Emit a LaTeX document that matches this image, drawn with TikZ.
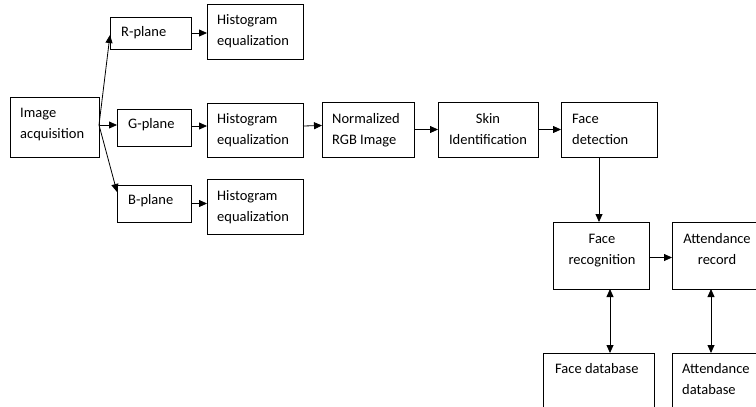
\documentclass[tikz,border=0pt]{standalone}
\usepackage{fontspec}
\setmainfont{Carlito}
\usetikzlibrary{arrows.meta}
\begin{document}
\begin{tikzpicture}[x=1pt,y=-1pt,
  box/.style={draw,line width=0.8pt,inner sep=0pt,outer sep=0pt},
  txt/.style={font=\fontsize{14.5}{21}\selectfont,inner sep=0pt,align=left,anchor=base west},
  ctxt/.style={font=\fontsize{14.5}{21}\selectfont,inner sep=0pt,align=center,anchor=base},
  arr/.style={line width=0.8pt,-{Triangle[length=8pt,width=7pt]}},
  dbl/.style={line width=0.8pt,{Triangle[length=8pt,width=7pt]}-{Triangle[length=8pt,width=7pt]}}]
\useasboundingbox (0,0) rectangle (756,407);
\clip (0,0) rectangle (756,407);
% boxes
\node[box,minimum width=89pt,minimum height=60pt] (acq) at (54.5,127) {};
\node[box,minimum width=81pt,minimum height=32pt] (rp) at (150.5,33) {};
\node[box,minimum width=96pt,minimum height=55pt] (hr) at (255,31.5) {};
\node[box,minimum width=74pt,minimum height=37pt] (gp) at (154,127.5) {};
\node[box,minimum width=96pt,minimum height=54pt] (hg) at (255,130) {};
\node[box,minimum width=74pt,minimum height=37pt] (bp) at (154,203.5) {};
\node[box,minimum width=96pt,minimum height=55pt] (hb) at (255,206.5) {};
\node[box,minimum width=92pt,minimum height=55pt] (nr) at (368,129.5) {};
\node[box,minimum width=100pt,minimum height=55pt] (sk) at (488,129.5) {};
\node[box,minimum width=96pt,minimum height=55pt] (fd) at (609,129.5) {};
\node[box,minimum width=96pt,minimum height=67pt] (fr) at (601,255.5) {};
\node[box,minimum width=90pt,minimum height=67pt] (ar) at (717,255.5) {};
\node[box,minimum width=111pt,minimum height=67pt] (fdb) at (598.5,386.5) {};
\node[box,minimum width=90pt,minimum height=67pt] (adb) at (717,386.5) {};
% texts (anchor = baseline of last line)
\node[txt] (tacq) at (20,138) {Image\\acquisition};
\node[txt] (trp) at (121,36) {R-plane};
\node[txt] (thr) at (217,45) {Histogram\\equalization};
\node[txt] (tgp) at (128,128) {G-plane};
\node[txt] (thg) at (217,144) {Histogram\\equalization};
\node[txt] (tbp) at (128,204) {B-plane};
\node[txt] (thb) at (217,221) {Histogram\\equalization};
\node[txt] (tnr) at (332,144) {Normalized\\RGB Image};
\node[ctxt] (tsk) at (488,144) {Skin\\Identification};
\node[txt] (tfd) at (572,144) {Face\\detection};
\node[ctxt] (tfr) at (602,264) {Face\\recognition};
\node[ctxt] (tar) at (717,264) {Attendance\\record};
\node[txt] (tfdb) at (555,373) {Face database};
\node[txt] (tadb) at (682,394) {Attendance\\database};
% connectors
\coordinate (fan) at ([yshift=2pt]acq.east);
\coordinate (gpe) at ([yshift=1.5pt]gp.east);
\draw[arr] (fan) -- ([yshift=-2pt]rp.west);
\draw[arr] (fan) -- (gp.west |- fan);
\draw[arr] (fan) -- ([yshift=-7pt]bp.north west);
\draw[arr] (rp.east) -- (hr.west |- rp.east);
\draw[arr] (gpe) -- (gpe -| hg.west);
\draw[arr] (bp.east) -- (hb.west |- bp.east);
\draw[arr] ([yshift=4pt]hg.east) -- ([yshift=4pt]nr.west);
\draw[arr] (nr.east) -- (sk.west);
\draw[arr] (sk.east) -- (fd.west);
\draw[arr] ([xshift=-2pt]fr.north |- fd.south) -- ([xshift=-2pt]fr.north);
\draw[arr] ([yshift=-2pt]fr.east) -- ([yshift=-2pt]ar.west);
\draw[dbl] ([xshift=9pt]fr.south) -- ([xshift=9pt]fr.south |- fdb.north);
\draw[dbl] ([xshift=-6pt]ar.south) -- ([xshift=-6pt]ar.south |- adb.north);
\end{tikzpicture}
\end{document}
